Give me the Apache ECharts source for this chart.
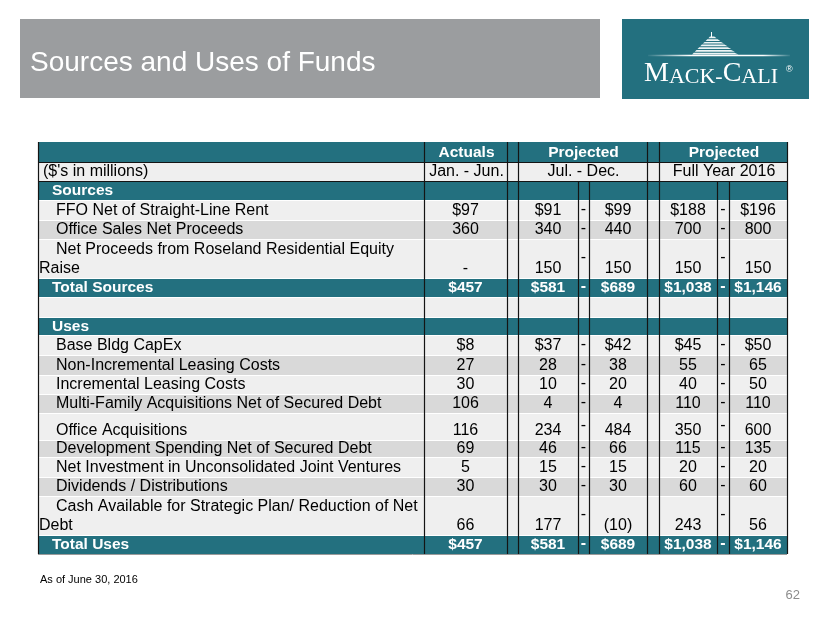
<!DOCTYPE html>
<html><head><meta charset="utf-8">
<script src="https://cdn.jsdelivr.net/npm/echarts@6/dist/echarts.min.js"></script>
<style>html,body{margin:0;padding:0;background:#fff}#c{width:830px;height:623px}</style>
</head><body><div id="c"></div>
<script>
// ---------------- DATA ----------------
const rowLabels = [
  "", "($'s in millions)", "Sources",
  "FFO Net of Straight-Line Rent",
  "Office Sales Net Proceeds",
  "Net Proceeds from Roseland Residential Equity\nRaise",
  "Total Sources", "", "Uses",
  "Base Bldg CapEx",
  "Non-Incremental Leasing Costs",
  "Incremental Leasing Costs",
  "Multi-Family Acquisitions Net of Secured Debt",
  "Office Acquisitions",
  "Development Spending Net of Secured Debt",
  "Net Investment in Unconsolidated Joint Ventures",
  "Dividends / Distributions",
  "Cash Available for Strategic Plan/ Reduction of Net\nDebt",
  "Total Uses"
];
const rowKinds = ['head1','head2','section','item','item','item','total','blank','section',
  'item','item','item','item','item','item','item','item','item','total'];
const columnGroups = ['Actuals', 'Projected', 'Projected'];
const periodLabels = ['Jan. - Jun.', 'Jul. - Dec.', 'Full Year 2016'];
const actualsJanJun  = [null,null,null, 97, 360,   0,  457, null,null,  8, 27, 30, 106, 116, 69,  5, 30,  66,  457];
const julDecLow      = [null,null,null, 91, 340, 150,  581, null,null, 37, 28, 10,   4, 234, 46, 15, 30, 177,  581];
const julDecHigh     = [null,null,null, 99, 440, 150,  689, null,null, 42, 38, 20,   4, 484, 66, 15, 30, -10,  689];
const fy2016Low      = [null,null,null,188, 700, 150, 1038, null,null, 45, 55, 40, 110, 350,115, 20, 60, 243, 1038];
const fy2016High     = [null,null,null,196, 800, 150, 1146, null,null, 50, 65, 50, 110, 600,135, 20, 60,  56, 1146];
const dollarRows = ["FFO Net of Straight-Line Rent", "Total Sources", "Base Bldg CapEx", "Total Uses"];
const shadedRows = ["Office Sales Net Proceeds", "Non-Incremental Leasing Costs",
  "Multi-Family Acquisitions Net of Secured Debt", "Development Spending Net of Secured Debt",
  "Dividends / Distributions"];
const valueSeries = [actualsJanJun, julDecLow, julDecHigh, fy2016Low, fy2016High];

// ---------------- LAYOUT / STYLE ----------------
const TEAL = '#23707f', LIGHT = '#efefef', GREY = '#d9d9d9', LINE = '#141414';
const FONT = '"Liberation Sans", Arial, sans-serif';
const COLS = [38, 424, 507, 518, 578, 589, 647, 659, 717, 729, 787];
const ROWS = [142,162,181,200,220,239,278,297,317,335,355,375,394,413,440,457,477,496,535,554];
const valueCols = [[424,507],[518,578],[589,647],[659,717],[729,787]];
const dashCols = [[578,589],[717,729]];
const groupCols = [[424,507],[518,647],[659,787]];
const headLines = [424, 507, 518, 647, 659];
const bodyLines = [424, 507, 518, 578, 589, 647, 659, 717, 729];

function fmt(v, dollar) {
  if (v === null || v === undefined) return '';
  if (v === 0) return '-';
  const s = Math.abs(v).toLocaleString('en-US');
  if (v < 0) return '(' + s + ')';
  return (dollar ? '$' : '') + s;
}

function txt(x, y, text, opts) {
  opts = opts || {};
  const align = opts.align || 'center';
  return {
    type: 'text', x: x, y: y, silent: true,
    style: {
      text: text, fill: opts.fill || '#000',
      font: (opts.bold ? 'bold ' : '') + (opts.size || 16) + 'px ' + FONT,
      align: align, verticalAlign: 'middle',
      textAlign: align, textVerticalAlign: 'middle'
    }
  };
}

function renderItem(params, api) {
  const r = params.dataIndex;
  const kind = rowKinds[r];
  const label = rowLabels[r];
  const P = (x, y) => api.coord([x, y]);
  const tl = P(COLS[0], ROWS[r]);
  const br = P(COLS[COLS.length - 1], ROWS[r + 1]);
  const x0 = tl[0], yT = tl[1], x1 = br[0], yB = br[1];
  const h = yB - yT;
  const ch = [];
  let fill = LIGHT;
  if (kind === 'head1' || kind === 'section' || kind === 'total') fill = TEAL;
  else if (shadedRows.indexOf(label) >= 0) fill = GREY;
  ch.push({ type: 'rect', shape: { x: x0, y: yT, width: x1 - x0, height: h }, style: { fill: fill } });
  const darkTop = (r === 1 || r === 2);
  if (r > 0) ch.push({ type: 'line', shape: { x1: x0, y1: yT + 0.5, x2: x1, y2: yT + 0.5 },
    style: { stroke: darkTop ? LINE : '#ffffff', lineWidth: 1.2 } });
  const lines = (kind === 'head1' || kind === 'head2') ? headLines : bodyLines;
  [COLS[0]].concat(lines).concat([COLS[COLS.length - 1]]).forEach(function (lx) {
    const p = P(lx, 0);
    ch.push({ type: 'line', shape: { x1: p[0] + 0.5, y1: yT, x2: p[0] + 0.5, y2: yB },
      style: { stroke: LINE, lineWidth: 1.2 } });
  });
  const midY = yT + h / 2 + 0.5;
  const textY = h > 22 ? yB - 9.5 : midY;
  const white = (kind === 'head1' || kind === 'section' || kind === 'total');
  const color = white ? '#ffffff' : '#000000';
  const bold = white;
  if (kind === 'head1') {
    groupCols.forEach(function (c, i) {
      const a = P(c[0], 0), b = P(c[1], 0);
      ch.push(txt((a[0] + b[0]) / 2 + 1, midY, columnGroups[i], { fill: '#fff', bold: true, size: 15.5 }));
    });
  } else if (kind === 'head2') {
    ch.push(txt(P(43, 0)[0], midY, label, { align: 'left' }));
    groupCols.forEach(function (c, i) {
      const a = P(c[0], 0), b = P(c[1], 0);
      ch.push(txt((a[0] + b[0]) / 2 + 1, midY, periodLabels[i]));
    });
  } else if (kind === 'section') {
    ch.push(txt(P(52, 0)[0], midY, label, { align: 'left', fill: '#fff', bold: true, size: 15.5 }));
  } else if (kind === 'item' || kind === 'total') {
    const parts = label.split('\n');
    if (parts.length === 2) {
      ch.push(txt(P(56, 0)[0], textY - 19, parts[0], { align: 'left' }));
      ch.push(txt(P(39, 0)[0], textY, parts[1], { align: 'left' }));
    } else {
      ch.push(txt(P(kind === 'total' ? 52 : 56, 0)[0], textY, label,
        { align: 'left', fill: color, bold: bold, size: bold ? 15.5 : 16 }));
    }
    const dollar = dollarRows.indexOf(label) >= 0;
    valueCols.forEach(function (c, i) {
      const a = P(c[0], 0), b = P(c[1], 0);
      ch.push(txt((a[0] + b[0]) / 2, textY, fmt(valueSeries[i][r], dollar),
        { fill: color, bold: bold, size: bold ? 15.5 : 16 }));
    });
    dashCols.forEach(function (c) {
      const a = P(c[0], 0), b = P(c[1], 0);
      ch.push(txt((a[0] + b[0]) / 2, midY - 1, '-', { fill: color, bold: bold }));
    });
  }
  if (r === rowLabels.length - 1) {
    ch.push({ type: 'line', shape: { x1: x0, y1: yB + 0.5, x2: x1, y2: yB + 0.5 },
      style: { stroke: '#9a9a9a', lineWidth: 1 } });
  }
  return { type: 'group', children: ch };
}

// logo building stripes
const building = [];
building.push({ type: 'line', shape: { x1: 711.5, y1: 32, x2: 711.5, y2: 37 }, style: { stroke: '#fff', lineWidth: 1 } });
for (let i = 0; i < 7; i++) {
  const y0 = 36.5 + i * 2.7;
  const y1 = y0 + 1.7;
  const l0 = 711 - (y0 - 35.5) * 1.0, r0 = 713 + (y0 - 35.5) * 1.25;
  const l1 = 711 - (y1 - 35.5) * 1.0, r1 = 713 + (y1 - 35.5) * 1.35;
  building.push({ type: 'polygon', shape: { points: [[l0, y0], [r0, y0], [r1, y1], [l1, y1]] },
    style: { fill: '#ffffff', opacity: 0.92 } });
}

const chart = echarts.init(document.getElementById('c'), null, { renderer: 'canvas' });
chart.setOption({
  animation: false,
  backgroundColor: '#ffffff',
  grid: { left: 38, top: 142, width: 749, height: 412, containLabel: false },
  xAxis: { type: 'value', min: 38, max: 787, show: false },
  yAxis: { type: 'value', min: 142, max: 554, inverse: true, show: false },
  series: [{
    type: 'custom', coordinateSystem: 'cartesian2d', clip: false,
    renderItem: renderItem,
    data: rowLabels.map(function (l, i) { return [i]; })
  }],
  graphic: [
    { type: 'rect', shape: { x: 20, y: 19, width: 580, height: 79 }, style: { fill: '#9b9d9f' } },
    { type: 'text', x: 30, y: 63, style: { text: 'Sources and Uses of Funds', fill: '#ffffff',
      font: '28px ' + FONT, align: 'left', verticalAlign: 'middle', textAlign: 'left', textVerticalAlign: 'middle' } },
    { type: 'rect', shape: { x: 622, y: 19, width: 187, height: 80 }, style: { fill: TEAL } },
    { type: 'group', children: building },
    { type: 'line', shape: { x1: 648, y1: 55.5, x2: 790, y2: 55.5 }, style: { lineWidth: 1.5,
      stroke: { type: 'linear', x: 0, y: 0, x2: 1, y2: 0, colorStops: [
        { offset: 0, color: 'rgba(255,255,255,0)' }, { offset: 0.3, color: 'rgba(255,255,255,1)' },
        { offset: 0.8, color: 'rgba(255,255,255,1)' }, { offset: 1, color: 'rgba(255,255,255,0)' }] } } },
    { type: 'text', x: 711, y: 73, style: {
      text: '{b|M}{s|ACK-}{b|C}{s|ALI}', fill: '#fff', align: 'center', verticalAlign: 'middle',
      textAlign: 'center', textVerticalAlign: 'middle',
      rich: {
        b: { font: '28px "Liberation Serif", "DejaVu Serif", serif', fill: '#fff', verticalAlign: 'bottom', lineHeight: 30 },
        s: { font: '22px "Liberation Serif", "DejaVu Serif", serif', fill: '#fff', verticalAlign: 'bottom', lineHeight: 30 }
      } } },
    { type: 'text', x: 786, y: 70, style: { text: '®', fill: '#fff', font: '9px ' + FONT,
      align: 'left', verticalAlign: 'middle', textAlign: 'left', textVerticalAlign: 'middle' } },
    { type: 'text', x: 40, y: 580, style: { text: 'As of June 30, 2016', fill: '#000', font: '11px ' + FONT,
      align: 'left', verticalAlign: 'middle', textAlign: 'left', textVerticalAlign: 'middle' } },
    { type: 'text', x: 800, y: 595, style: { text: '62', fill: '#8c8c8c', font: '13px ' + FONT,
      align: 'right', verticalAlign: 'middle', textAlign: 'right', textVerticalAlign: 'middle' } }
  ]
});
</script>
</body></html>
